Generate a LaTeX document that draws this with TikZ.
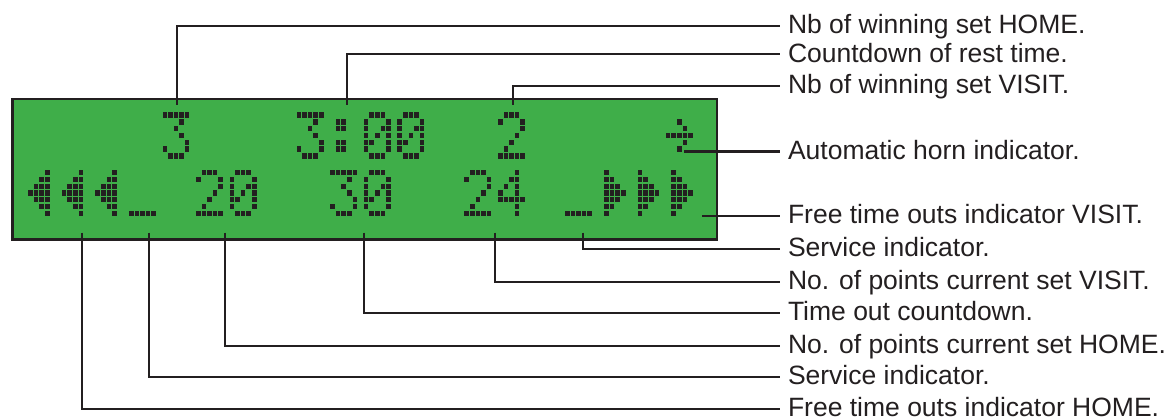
\documentclass[tikz,border=0pt]{standalone}
\usepackage{fontspec}
\setmainfont{Liberation Sans}
\definecolor{ink}{RGB}{35,31,32}
\definecolor{lcdgreen}{RGB}{63,174,73}
\tikzset{
  conn/.style={draw=ink, line width=2.3pt},
  lbl/.style={anchor=west, inner xsep=7.8pt, inner ysep=0pt, text height=16pt, text depth=0pt, text=ink, font=\fontsize{26.5}{30}\selectfont},
  lcdbox/.style={draw=ink, fill=lcdgreen, line width=2.4pt, inner sep=0pt, anchor=north west},
  pix/.style={fill=ink},
}
\def\gThree{0/0,1/0,2/0,3/0,4/0,3/1,2/2,3/3,4/4,0/5,4/5,1/6,2/6,3/6}
\def\gTwo{1/0,2/0,3/0,0/1,4/1,4/2,3/3,2/4,1/5,0/6,1/6,2/6,3/6,4/6}
\def\gZero{1/0,2/0,3/0,0/1,4/1,0/2,3/2,4/2,0/3,2/3,4/3,0/4,1/4,4/4,0/5,4/5,1/6,2/6,3/6}
\def\gFour{3/0,2/1,3/1,1/2,3/2,0/3,3/3,0/4,1/4,2/4,3/4,4/4,3/5,3/6}
\def\gColon{1/1,2/1,1/2,2/2,1/4,2/4,1/5,2/5}
\def\gUnder{0/6,1/6,2/6,3/6,4/6}
\def\gLeft{3/0,2/1,3/1,1/2,2/2,3/2,0/3,1/3,2/3,3/3,1/4,2/4,3/4,2/5,3/5,3/6}
\def\gRight{1/0,1/1,2/1,1/2,2/2,3/2,1/3,2/3,3/3,4/3,1/4,2/4,3/4,1/5,2/5,1/6}
\def\gArrow{2/1,3/2,0/3,1/3,2/3,3/3,4/3,3/4,2/5}
\newcommand\lcdglyph[3]{%
  \foreach \c/\r in #3 {\fill[pix] ({28.3+33.55*#2+5.59*\c},{#1+6.8*\r}) rectangle ++(4.6,5.3);}}
\begin{document}
\begin{tikzpicture}[x=1pt,y=-1pt]
\useasboundingbox (0,0) rectangle (1168,419);
% display
\node[lcdbox, minimum width=704.3pt, minimum height=140.4pt] (lcd) at (11.2,97.8) {};
% line 1
\lcdglyph{112.5}{4}{\gThree}
\lcdglyph{112.5}{8}{\gThree}
\lcdglyph{112.5}{9}{\gColon}
\lcdglyph{112.5}{10}{\gZero}
\lcdglyph{112.5}{11}{\gZero}
\lcdglyph{112.5}{14}{\gTwo}
\lcdglyph{112.5}{19}{\gArrow}
% line 2
\lcdglyph{170}{0}{\gLeft}
\lcdglyph{170}{1}{\gLeft}
\lcdglyph{170}{2}{\gLeft}
\lcdglyph{170}{3}{\gUnder}
\lcdglyph{170}{5}{\gTwo}
\lcdglyph{170}{6}{\gZero}
\lcdglyph{170}{9}{\gThree}
\lcdglyph{170}{10}{\gZero}
\lcdglyph{170}{13}{\gTwo}
\lcdglyph{170}{14}{\gFour}
\lcdglyph{170}{16}{\gUnder}
\lcdglyph{170}{17}{\gRight}
\lcdglyph{170}{18}{\gRight}
\lcdglyph{170}{19}{\gRight}
% labels
\node[lbl] (l1) at (780,26) {Nb of winning set HOME.};
\node[lbl] (l2) at (780,54.3) {Countdown of rest time.};
\node[lbl] (l3) at (780,86) {Nb of winning set VISIT.};
\node[lbl] (l4) at (780,151.5) {Automatic horn indicator.};
\node[lbl] (l5) at (780,215.8) {Free time outs indicator VISIT.};
\node[lbl] (l6) at (780,249) {Service indicator.};
\node[lbl] (l7) at (780,281.7) {No. of points current set VISIT.};
\node[lbl] (l8) at (780,313) {Time out countdown.};
\node[lbl] (l9) at (780,345.8) {No. of points current set HOME.};
\node[lbl] (l10) at (780,377) {Service indicator.};
\node[lbl] (l11) at (780,408.8) {Free time outs indicator HOME.};
% connector start points
\coordinate (c1) at (177,105);
\coordinate (c2) at (347.3,105);
\coordinate (c3) at (513.3,105);
\coordinate (c4) at (684.3,151.5);
\coordinate (c5) at (702.3,215.8);
\coordinate (c6) at (583.3,232.7);
\coordinate (c7) at (495,232.7);
\coordinate (c8) at (364,232.7);
\coordinate (c9) at (225,232.7);
\coordinate (c10) at (149.3,232.7);
\coordinate (c11) at (81.7,232.7);
\foreach \i in {1,...,11}{\draw[conn] (c\i) |- (l\i.west);}
\end{tikzpicture}
\end{document}
